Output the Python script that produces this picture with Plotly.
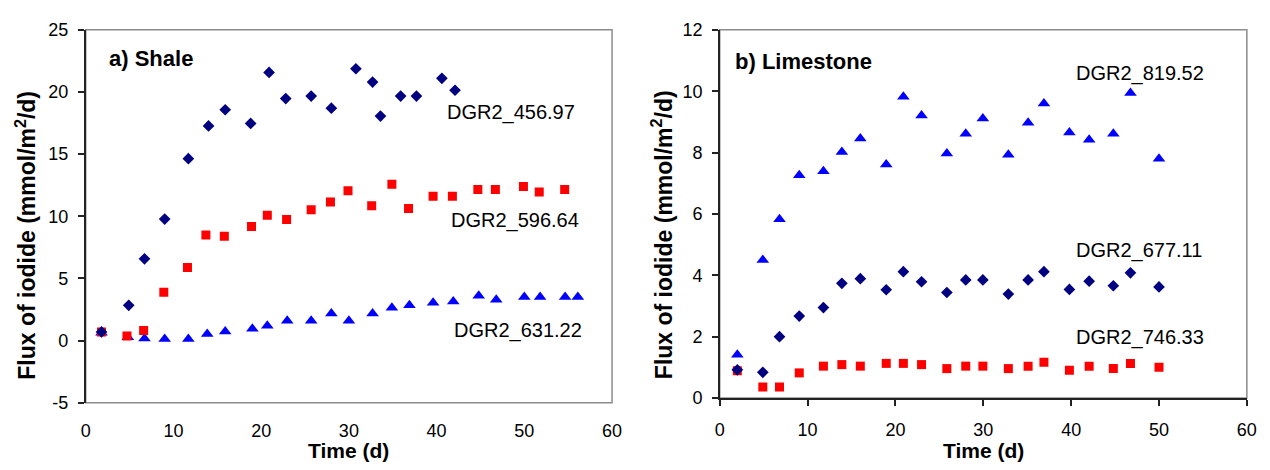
import plotly.graph_objects as go

# ---- Data: a) Shale ----
shale_days_456 = [1.8, 4.9, 6.7, 9.0, 11.7, 14.0, 15.9, 18.8, 20.9, 22.8, 25.7, 28.0, 30.8, 32.7, 33.6, 35.9, 37.7, 40.6, 42.1]
shale_flux_456 = [0.7, 2.84, 6.58, 9.78, 14.64, 17.27, 18.57, 17.47, 21.57, 19.47, 19.67, 18.70, 21.87, 20.8, 18.06, 19.67, 19.67, 21.1, 20.14]

shale_days_596 = [1.8, 4.7, 6.6, 8.9, 11.6, 13.7, 15.8, 18.9, 20.7, 22.9, 25.7, 27.9, 29.9, 32.6, 34.9, 36.8, 39.6, 41.8, 44.7, 46.7, 49.9, 51.7, 54.6]
shale_flux_596 = [0.69, 0.38, 0.82, 3.89, 5.89, 8.5, 8.39, 9.19, 10.08, 9.75, 10.52, 11.16, 12.05, 10.85, 12.59, 10.62, 11.62, 11.62, 12.16, 12.16, 12.39, 11.95, 12.16]

shale_days_631 = [1.8, 4.8, 6.7, 9.0, 11.7, 13.85, 15.9, 19.0, 20.7, 22.97, 25.7, 28.0, 30.0, 32.7, 34.9, 36.9, 39.6, 41.9, 44.8, 46.8, 50.0, 51.8, 54.65, 56.1]
shale_flux_631 = [0.64, 0.28, 0.18, 0.13, 0.13, 0.54, 0.74, 0.95, 1.2, 1.61, 1.61, 2.18, 1.61, 2.18, 2.64, 2.84, 3.05, 3.15, 3.61, 3.30, 3.51, 3.51, 3.51, 3.51]

# ---- Data: b) Limestone ----
lime_days = [2.0, 4.9, 6.8, 9.05, 11.8, 13.9, 16.0, 18.95, 20.9, 22.97, 25.85, 28.0, 29.95, 32.85, 35.1, 36.9, 39.8, 42.05, 44.8, 46.75, 50.0]
lime_flux_819 = [1.41, 4.5, 5.83, 7.26, 7.39, 8.02, 8.46, 7.61, 9.82, 9.21, 7.97, 8.61, 9.11, 7.93, 8.97, 9.6, 8.65, 8.42, 8.61, 9.94, 7.8]
lime_flux_677 = [0.92, 0.84, 2.0, 2.67, 2.95, 3.74, 3.89, 3.53, 4.12, 3.79, 3.44, 3.85, 3.85, 3.39, 3.85, 4.12, 3.54, 3.81, 3.66, 4.08, 3.62]
lime_flux_746 = [0.89, 0.36, 0.36, 0.82, 1.04, 1.09, 1.04, 1.13, 1.13, 1.09, 0.96, 1.04, 1.04, 0.96, 1.04, 1.17, 0.91, 1.04, 0.96, 1.13, 1.0]

# ---- Ticks / labels ----
x_ticks = [0, 10, 20, 30, 40, 50, 60]
shale_y_ticks = [-5, 0, 5, 10, 15, 20, 25]
shale_y_ticktext = ["-5", "0", "5", "10", "15", "20", "25"]
lime_y_ticks = [0, 2, 4, 6, 8, 10, 12]

series_labels = ["DGR2_456.97", "DGR2_596.64", "DGR2_631.22", "DGR2_819.52", "DGR2_677.11", "DGR2_746.33"]
panel_titles = ["a) Shale", "b) Limestone"]

NAVY = "#000080"
RED = "#FF0000"
BLUE = "#0000FF"
FONT = "Liberation Sans, Arial, sans-serif"

W, H = 1270, 470

def px_x(p):
    return p / W

def px_y(p):
    return 1 - p / H

fig = go.Figure()

def add(x, y, color, symbol, size, xa, ya):
    fig.add_trace(go.Scatter(x=x, y=y, mode="markers", xaxis=xa, yaxis=ya,
                             marker=dict(color=color, symbol=symbol, size=size, line=dict(width=0)),
                             showlegend=False, hoverinfo="x+y"))

add(shale_days_631, shale_flux_631, BLUE, "triangle-up", 11, "x", "y")
add(shale_days_596, shale_flux_596, RED, "square", 9, "x", "y")
add(shale_days_456, shale_flux_456, NAVY, "diamond", 9, "x", "y")

add(lime_days, lime_flux_746, RED, "square", 9, "x2", "y2")
add(lime_days, lime_flux_677, NAVY, "diamond", 9, "x2", "y2")
add(lime_days, lime_flux_819, BLUE, "triangle-up", 11, "x2", "y2")

tickfont = dict(family=FONT, size=18, color="black")
AX = "#222222"

fig.update_layout(
    width=W, height=H,
    margin=dict(l=0, r=0, t=0, b=0),
    paper_bgcolor="white", plot_bgcolor="white",
    xaxis=dict(domain=[px_x(81.7), px_x(614.3)], range=[0, 60], tickvals=x_ticks, anchor="y",
               showline=False, ticks="", showgrid=False, zeroline=False,
               tickfont=tickfont, ticklabelstandoff=15),
    yaxis=dict(domain=[px_y(410.3), px_y(20.7)], range=[-5, 25],
               tickvals=shale_y_ticks, ticktext=shale_y_ticktext, anchor="x",
               showline=True, linecolor=AX, linewidth=1.5, ticks="outside",
               ticklen=6, tickcolor=AX, tickwidth=1.5, ticklabelstandoff=6,
               showgrid=False, zeroline=False, tickfont=tickfont),
    xaxis2=dict(domain=[px_x(723.3), px_x(1256.7)], range=[0, 60], tickvals=x_ticks, anchor="y2",
                showline=True, linecolor=AX, linewidth=1.5, ticks="outside",
                ticklen=6, tickcolor=AX, tickwidth=1.5, ticklabelstandoff=9,
                showgrid=False, zeroline=False, tickfont=tickfont),
    yaxis2=dict(domain=[px_y(405.3), px_y(20.7)], range=[0, 12], tickvals=lime_y_ticks, anchor="x2",
                showline=True, linecolor=AX, linewidth=1.5, ticks="outside",
                ticklen=6, tickcolor=AX, tickwidth=1.5, ticklabelstandoff=6,
                showgrid=False, zeroline=False, tickfont=tickfont),
)

# plot area borders (gray)
for xr, yr in [("x domain", "y domain"), ("x2 domain", "y2 domain")]:
    fig.add_shape(type="rect", xref=xr, yref=yr, x0=0, x1=1, y0=0, y1=1,
                  line=dict(color="#8c8c8c", width=1.5), layer="below")

ann = []
lab_font = dict(family=FONT, size=20, color="black")
label_pos = [(512, 106.7), (516, 220), (519, 335), (1149, 66.7), (1148, 251.7), (1149, 341.7)]
for text, (x, y) in zip(series_labels, label_pos):
    ann.append(dict(x=px_x(x), y=px_y(y), xref="paper", yref="paper", text=text,
                    showarrow=False, font=lab_font, xanchor="center", yanchor="middle"))

bold = dict(family=FONT, size=22, color="black")
ann.append(dict(x=px_x(103), y=px_y(51), xref="paper", yref="paper", text="<b>" + panel_titles[0] + "</b>",
                showarrow=False, font=bold, xanchor="left", yanchor="middle"))
ann.append(dict(x=px_x(737), y=px_y(54), xref="paper", yref="paper", text="<b>" + panel_titles[1] + "</b>",
                showarrow=False, font=bold, xanchor="left", yanchor="middle"))

title_font = dict(family=FONT, size=23, color="black")
ytitle = "<b>Flux of iodide (mmol/m<sup>2</sup>/d)</b>"
for x in (21, 665):
    ann.append(dict(x=px_x(x), y=px_y(235), xref="paper", yref="paper", text=ytitle,
                    showarrow=False, font=title_font, textangle=-90, xanchor="center", yanchor="middle"))
time_font = dict(family=FONT, size=21, color="black")
for x in (348, 990):
    ann.append(dict(x=px_x(x), y=px_y(460), xref="paper", yref="paper", text="<b>Time (d)</b>",
                    showarrow=False, font=time_font, xanchor="center", yanchor="middle"))

fig.update_layout(annotations=ann)

fig.write_html("out.html")
